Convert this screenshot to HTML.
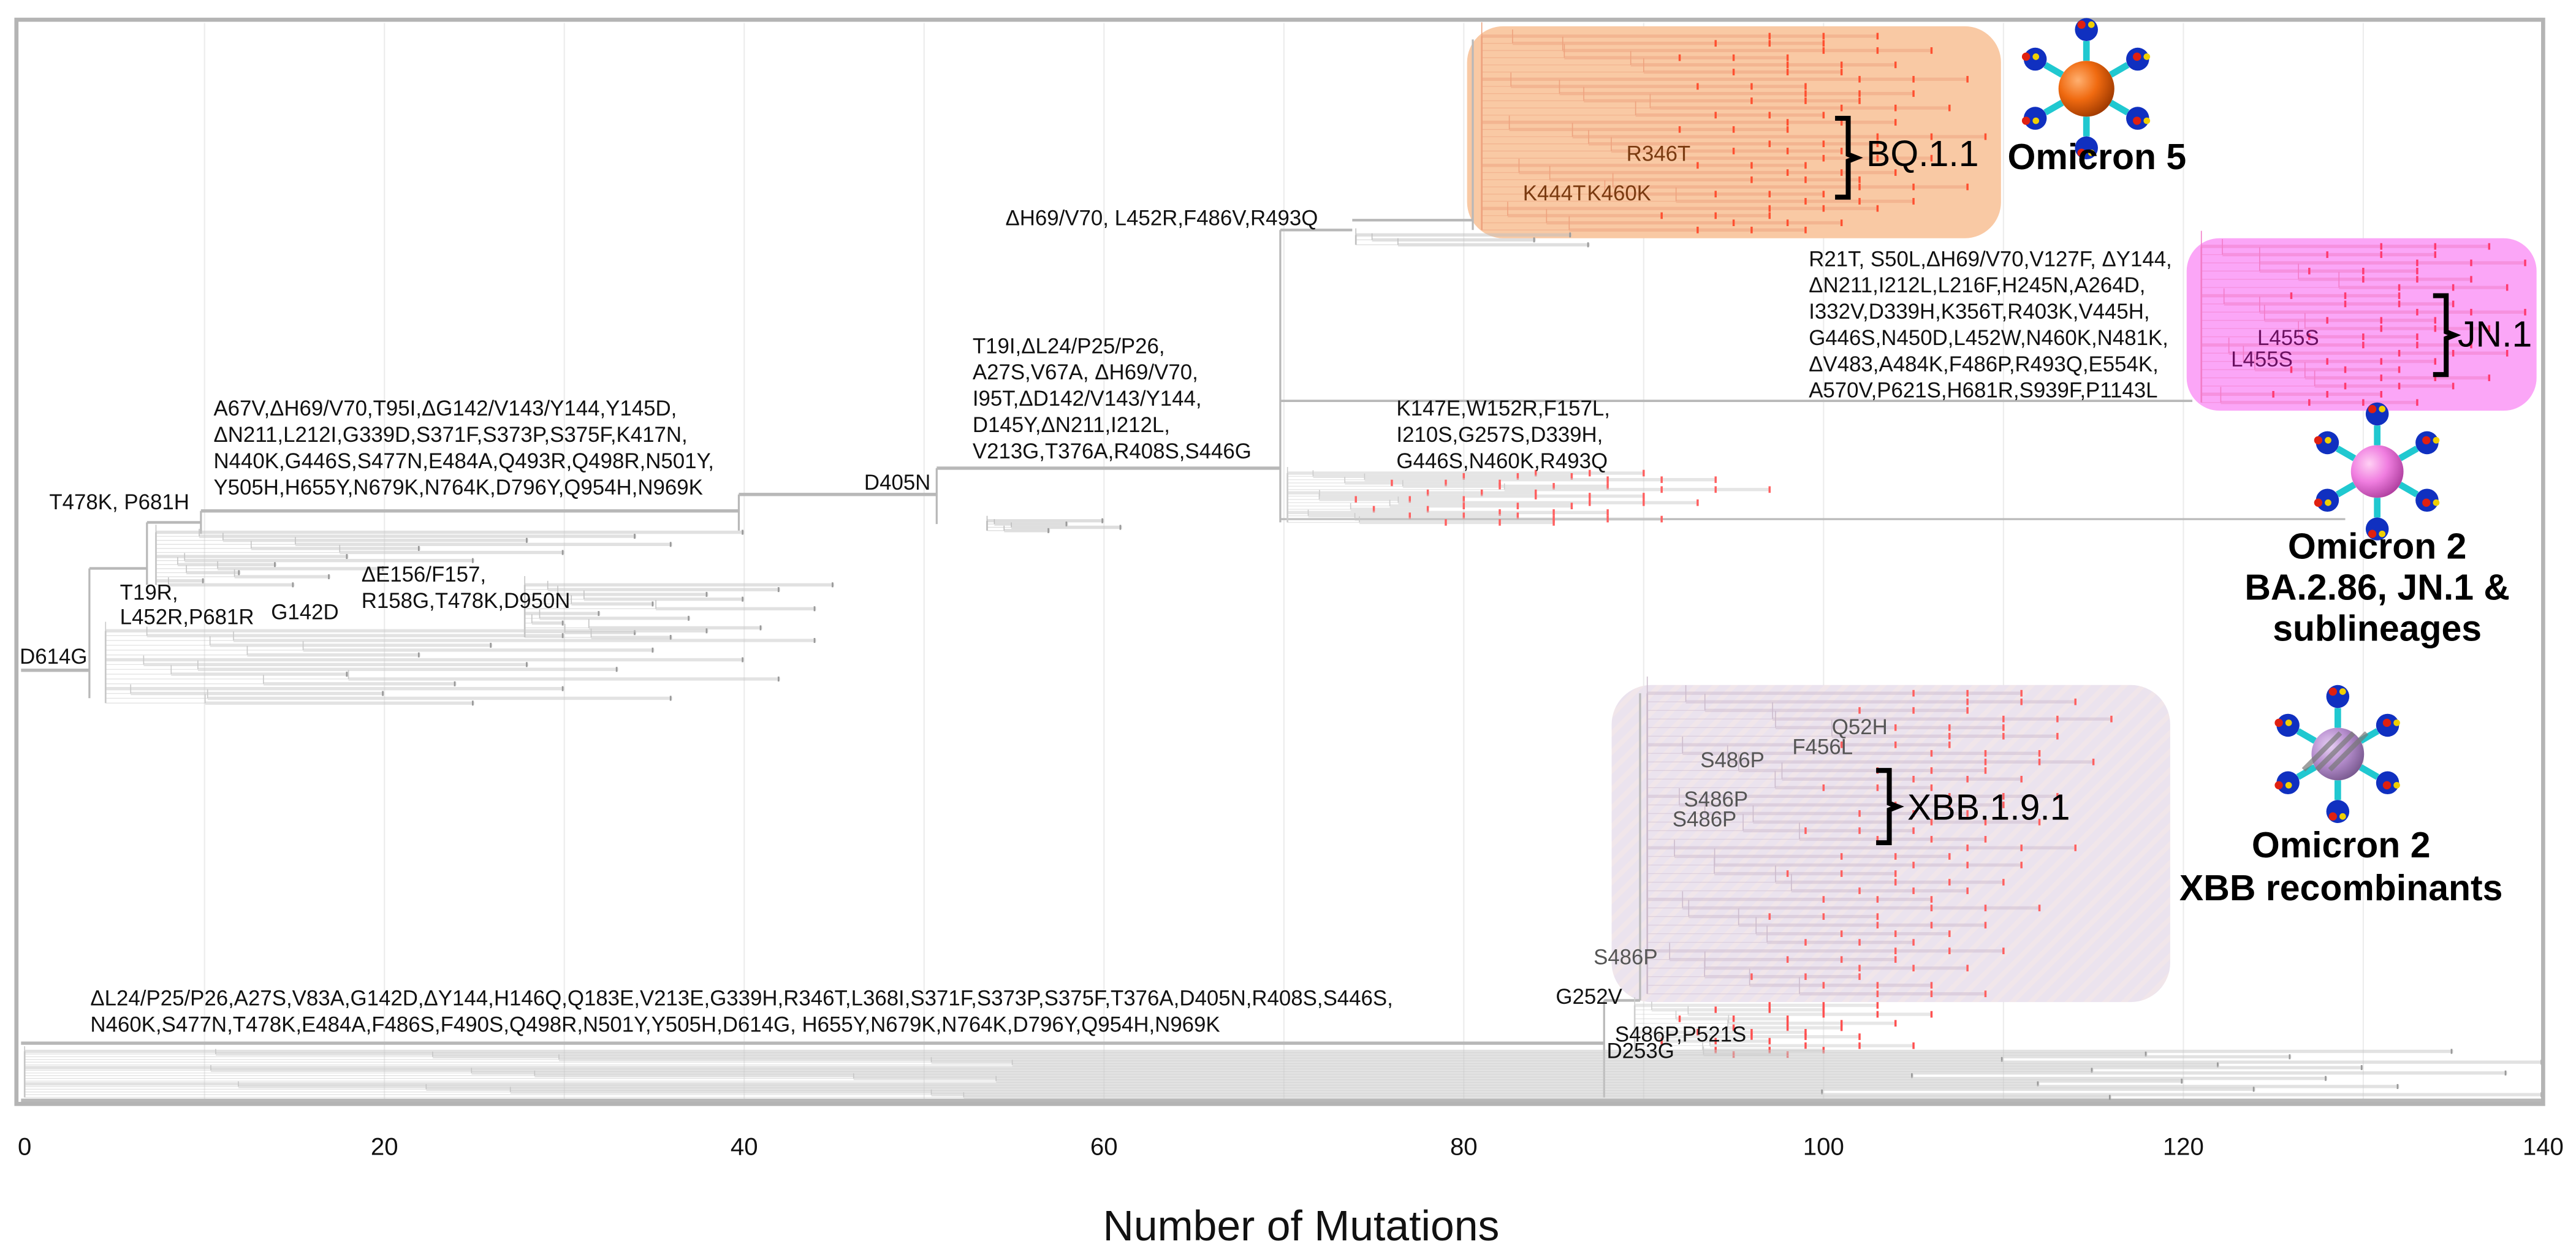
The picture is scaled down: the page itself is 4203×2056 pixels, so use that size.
<!DOCTYPE html>
<html><head><meta charset="utf-8"><title>Phylogeny - Number of Mutations</title>
<style>
html,body{margin:0;padding:0;background:#fff;}
svg{display:block;}
text{font-family:"Liberation Sans",Arial,sans-serif;}
.mut{font-size:13px;fill:#111;}
.big{font-size:22px;font-weight:bold;fill:#000;}
</style></head>
<body>
<svg id="chart" width="4203" height="2056" viewBox="0 0 1568 767" xmlns="http://www.w3.org/2000/svg">
<defs>
<pattern id="stripes" width="8" height="8" patternUnits="userSpaceOnUse" patternTransform="rotate(45)">
<rect width="8" height="8" fill="#ebe3ee"/><rect width="3" height="8" fill="#f1e6ea"/></pattern>
<radialGradient id="gOrange" cx="35%" cy="35%" r="70%"><stop offset="0" stop-color="#ffb070"/><stop offset="0.5" stop-color="#f06a10"/><stop offset="1" stop-color="#a03a00"/></radialGradient>
<radialGradient id="gPink" cx="35%" cy="35%" r="70%"><stop offset="0" stop-color="#ffd0f4"/><stop offset="0.5" stop-color="#f07ee0"/><stop offset="1" stop-color="#b040a0"/></radialGradient>
<radialGradient id="gPurple" cx="35%" cy="35%" r="70%"><stop offset="0" stop-color="#e8d0f4"/><stop offset="0.5" stop-color="#b890d0"/><stop offset="1" stop-color="#7a5a90"/></radialGradient>
</defs>
<rect x="0" y="0" width="1568" height="767" fill="#fff"/>
<g id="grid"></g>
<rect x="893" y="16" width="325" height="129" rx="22" fill="#f9c9a4"/>
<rect x="1331" y="145" width="213" height="105" rx="20" fill="#fba6f7"/>
<rect x="981" y="417" width="340" height="193" rx="24" fill="url(#stripes)"/>
<g id="tree"></g>
<rect x="10" y="12" width="1538" height="660" fill="none" stroke="#b4b4b4" stroke-width="2.5"/>
<g id="xaxis"></g>
<text x="792" y="755" text-anchor="middle" font-size="26" fill="#111">Number of Mutations</text>

<g>
<text class="mut" x="12" y="404">D614G</text>
<text class="mut" x="30" y="310">T478K, P681H</text>
<text class="mut" x="73" y="365">T19R,</text>
<text class="mut" x="73" y="380">L452R,P681R</text>
<text class="mut" x="165" y="377">G142D</text>
<text class="mut" x="220" y="354">ΔE156/F157,</text>
<text class="mut" x="220" y="370">R158G,T478K,D950N</text>
<g>
<text class="mut" x="130" y="253">A67V,ΔH69/V70,T95I,ΔG142/V143/Y144,Y145D,</text>
<text class="mut" x="130" y="269">ΔN211,L212I,G339D,S371F,S373P,S375F,K417N,</text>
<text class="mut" x="130" y="285">N440K,G446S,S477N,E484A,Q493R,Q498R,N501Y,</text>
<text class="mut" x="130" y="301">Y505H,H655Y,N679K,N764K,D796Y,Q954H,N969K</text>
</g>
<text class="mut" x="526" y="298">D405N</text>
<g>
<text class="mut" x="592" y="215">T19I,ΔL24/P25/P26,</text>
<text class="mut" x="592" y="231">A27S,V67A, ΔH69/V70,</text>
<text class="mut" x="592" y="247">I95T,ΔD142/V143/Y144,</text>
<text class="mut" x="592" y="263">D145Y,ΔN211,I212L,</text>
<text class="mut" x="592" y="279">V213G,T376A,R408S,S446G</text>
</g>
<text class="mut" x="612" y="137">ΔH69/V70, L452R,F486V,R493Q</text>
<text class="mut" x="990" y="98" style="fill:#7a3a10">R346T</text>
<text class="mut" x="927" y="122" style="fill:#7a3a10">K444T</text>
<text class="mut" x="966" y="122" style="fill:#7a3a10">K460K</text>
<g>
<text class="mut" x="1101" y="162">R21T, S50L,ΔH69/V70,V127F, ΔY144,</text>
<text class="mut" x="1101" y="178">ΔN211,I212L,L216F,H245N,A264D,</text>
<text class="mut" x="1101" y="194">I332V,D339H,K356T,R403K,V445H,</text>
<text class="mut" x="1101" y="210">G446S,N450D,L452W,N460K,N481K,</text>
<text class="mut" x="1101" y="226">ΔV483,A484K,F486P,R493Q,E554K,</text>
<text class="mut" x="1101" y="242">A570V,P621S,H681R,S939F,P1143L</text>
</g>
<g>
<text class="mut" x="850" y="253">K147E,W152R,F157L,</text>
<text class="mut" x="850" y="269">I210S,G257S,D339H,</text>
<text class="mut" x="850" y="285">G446S,N460K,R493Q</text>
</g>
<text class="mut" x="1374" y="210" style="fill:#6a1060">L455S</text>
<text class="mut" x="1358" y="223" style="fill:#6a1060">L455S</text>
<g>
<text class="mut" x="1115" y="447" style="fill:#555">Q52H</text>
<text class="mut" x="1091" y="459" style="fill:#555">F456L</text>
<text class="mut" x="1035" y="467" style="fill:#555">S486P</text>
<text class="mut" x="1025" y="491" style="fill:#555">S486P</text>
<text class="mut" x="1018" y="503" style="fill:#555">S486P</text>
<text class="mut" x="970" y="587" style="fill:#555">S486P</text>
</g>
<text class="mut" x="947" y="611">G252V</text>
<text class="mut" x="983" y="634">S486P,P521S</text>
<text class="mut" x="978" y="644">D253G</text>
<g>
<text class="mut" x="55" y="612">ΔL24/P25/P26,A27S,V83A,G142D,ΔY144,H146Q,Q183E,V213E,G339H,R346T,L368I,S371F,S373P,S375F,T376A,D405N,R408S,S446S,</text>
<text class="mut" x="55" y="628">N460K,S477N,T478K,E484A,F486S,F490S,Q498R,N501Y,Y505H,D614G, H655Y,N679K,N764K,D796Y,Q954H,N969K</text>
</g>
</g>

<g fill="none" stroke="#000" stroke-width="3">
<path d="M1117,72 h8 v22 l5,2 l-5,2 v22 h-8"/>
<path d="M1481,180 h8 v22 l5,2 l-5,2 v22 h-8"/>
<path d="M1142,469 h8 v20 l5,2 l-5,2 v20 h-8"/>
</g>
<text x="1136" y="101" font-size="22" fill="#000">BQ.1.1</text>
<text x="1496" y="211" font-size="22" fill="#000">JN.1</text>
<text x="1161" y="499" font-size="22" fill="#000">XBB.1.9.1</text>

<g id="icons"></g>
<text class="big" x="1222" y="103">Omicron 5</text>
<g>
<text class="big" x="1447" y="340" text-anchor="middle">Omicron 2</text>
<text class="big" x="1447" y="365" text-anchor="middle">BA.2.86, JN.1 &amp;</text>
<text class="big" x="1447" y="390" text-anchor="middle">sublineages</text>
</g>
<g>
<text class="big" x="1425" y="522" text-anchor="middle">Omicron 2</text>
<text class="big" x="1425" y="548" text-anchor="middle">XBB recombinants</text>
</g>
</svg>
<script>
const xTicks=[0,20,40,60,80,100,120,140];
const gridValues=[10,20,30,40,50,60,70,80,90,100,110,120,130];
// leaf lengths (number of mutations at tip) per clade
const deltaEnds=[40,34,28,36,22,30,18,25,14,20,12,17,10,15];
const ayEnds=[45,42,38,40,35,44,32,37,30,41,34,36];
const lowerEnds=[38,30,44,26,35,22,40,28,33,18,42,24,30,20,36,25];
const ba1Ends=[60,58,61,57];
const ba2Ends=[90,86,94,82,88,97,84,90,80,93,86,78,88,83,91,85];
const ba5preEnds=[86,84,87];
const bqEnds=[103,100,106,98,104,101,108,99,105,102,107,100,104,98,109,103,101,106,99,104,102,108,100,105,103,97,101,99];
const jnEnds=[137,134,139,133,136,138,132,135,139,134,137,133,136,138,134,132,137,135,131,133];
const xbbEnds=[111,114,108,116,110,113,107,112,115,109,111,106,113,110,108,112,105,109,114,107,111,104,110,108,106,112,103,109,107,105,110,104,108,102,106,109];
const postXbbEnds=[103,100,106,98,104,101,99,102,97,105,100,98];
const baseEnds=[135,118,126,110,140,122,130,115,138,105,128,120,112,132,124,100,140,116];

const svgNS="http://www.w3.org/2000/svg";
const xs=v=>15+v*10.95;
function mk(tag,attrs,parent){const e=document.createElementNS(svgNS,tag);for(const k in attrs)e.setAttribute(k,attrs[k]);parent.appendChild(e);return e;}
const grid=document.getElementById('grid'),tree=document.getElementById('tree'),xaxis=document.getElementById('xaxis'),icons=document.getElementById('icons');

gridValues.forEach(v=>{const l=mk('line',{x1:xs(v),x2:xs(v),y1:14,y2:670,stroke:'#ececec','stroke-width':0.8},grid);

});
xTicks.forEach(v=>{const t=mk('text',{x:xs(v),y:703,'text-anchor':'middle','font-size':15,fill:'#111'},xaxis);t.textContent=v;

});

function seg(x1,y1,x2,y2,col,w,name){const l=mk('line',{x1,y1,x2,y2,stroke:col,'stroke-width':w},tree);

return l;}

const H=(v1,v2,y,w)=>seg(xs(v1),y,xs(v2),y,'#b8b8b8',w||1.6,'backbone-branch');
const V=(v,y1,y2)=>seg(xs(v),y1,xs(v),y2,'#b8b8b8',1.2,'backbone-node');
H(-0.2,3.6,408,2);V(3.6,346,425);H(3.6,6.8,346);V(6.8,318,356);H(6.8,9.8,318);V(9.8,311,325);
H(9.8,39.7,311,2);V(39.7,301,323);H(39.7,50.7,301,2);V(50.7,285,319);H(50.7,69.8,285,2);
V(69.8,140,318);H(69.8,73.8,140);H(73.8,80.5,134);V(80.5,24,140);
H(69.8,120.5,244,1.4);H(69.8,129,316,1.2);
H(-0.2,87.8,635,2);V(87.8,609,668);H(87.8,89.8,609);V(89.8,422,609);
H(-0.2,140,670.5,3.5);

function clade(ends,v0,y0,y1,col,dotCol,name){
  const n=ends.length;
  seg(xs(v0),y0,xs(v0),y1,col,1,name+'-stem');
  ends.forEach((e,i)=>{
    const y=y0+(y1-y0)*i/(n-1);
    const s=v0+((i*7)%6)*(e-v0)*0.09;
    seg(xs(v0),y,xs(s),y,col,0.5,name+'-node').setAttribute('stroke-opacity','0.5');
    seg(xs(s),y,xs(s),y-(y1-y0)/n*2,col,0.6,name+'-subnode');
    seg(xs(s),y,xs(e),y,col,2,name+'-leaf').setAttribute('stroke-opacity','0.5');
    if(dotCol){[e,e-3,e-6].forEach(d=>{if(d>s){seg(xs(d),y-2,xs(d),y+2,dotCol,1.3,name+'-tip');}});}
    else{seg(xs(e)-1,y-1.5,xs(e)-1,y+1.5,'#999',1,name+'-tip');}
  });
}
clade(deltaEnds,7.3,324,356,'#c4c4c4',null,'delta-clade');
clade(ayEnds,27.8,356,388,'#c4c4c4',null,'ay-clade');
clade(lowerEnds,4.5,384,428,'#c8c8c8',null,'early-clade');
clade(ba1Ends,53.5,317,323,'#bdbdbd',null,'ba1-clade');
clade(ba2Ends,70.2,288,318,'#cccccc','#ff6060','ba2-clade');
clade(ba5preEnds,74,143,149,'#c0c0c0',null,'ba5-early-clade');
clade(bqEnds,81,22,140,'#eea27e','#ff5030','bq-clade');
clade(jnEnds,121,150,245,'#f27cc8','#ff3a70','jn1-clade');
clade(xbbEnds,90.2,422,605,'#cdbccd','#ff6060','xbb-clade');
clade(postXbbEnds,89.5,612,642,'#cfcfcf','#ff5050','post-xbb-clade');
clade(baseEnds,0,640,668,'#c6c6c6',null,'ba2-base-clade');

function virus(cx,cy,r,grad,name,striped){
  const g=mk('g',{},icons);
  
  
  [-90,-30,30,90,150,210].forEach(a=>{const rad=a*Math.PI/180,c=Math.cos(rad),s=Math.sin(rad);
    mk('line',{x1:cx+c*r,y1:cy+s*r,x2:cx+c*(r+12),y2:cy+s*(r+12),stroke:'#20c8d0','stroke-width':4},g);
    mk('circle',{cx:cx+c*(r+19),cy:cy+s*(r+19),r:7,fill:'#1030c0'},g);
    mk('circle',{cx:cx+c*(r+22)-3,cy:cy+s*(r+22),r:2.5,fill:'#e02010'},g);
    mk('circle',{cx:cx+c*(r+22)+3,cy:cy+s*(r+22),r:2,fill:'#f0d000'},g);});
  mk('circle',{cx,cy,r,fill:'url(#'+grad+')'},g);
  if(striped){[-8,0,8].forEach(o=>mk('line',{x1:cx-r*0.8+o,y1:cy+r*0.6,x2:cx+r*0.6+o,y2:cy-r*0.8,stroke:'#777','stroke-width':3,'stroke-opacity':0.7},g));}
}
virus(1270,54,17,'gOrange','omicron5-virus-icon');
virus(1447,287,16,'gPink','ba286-virus-icon');
virus(1423,459,16,'gPurple','xbb-virus-icon',true);
</script>
</body></html>
